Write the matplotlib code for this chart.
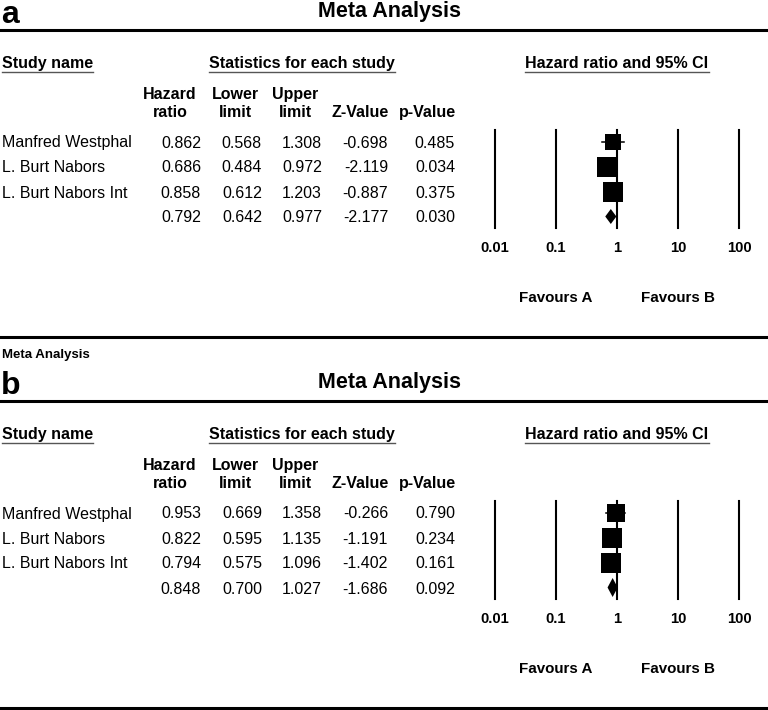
import numpy as np
import matplotlib.pyplot as plt

# study rows (last row = pooled estimate, no name)
names = ['Manfred Westphal', 'L. Burt Nabors', 'L. Burt Nabors Int', '']

a_hr = [0.862, 0.686, 0.858, 0.792]
a_lo = [0.568, 0.484, 0.612, 0.642]
a_hi = [1.308, 0.972, 1.203, 0.977]
a_z = [-0.698, -2.119, -0.887, -2.177]
a_p = [0.485, 0.034, 0.375, 0.030]

b_hr = [0.953, 0.822, 0.794, 0.848]
b_lo = [0.669, 0.595, 0.575, 0.700]
b_hi = [1.358, 1.135, 1.096, 1.027]
b_z = [-0.266, -1.191, -1.402, -1.686]
b_p = [0.790, 0.234, 0.161, 0.092]

col_heads = [('Hazard', 'ratio'), ('Lower', 'limit'), ('Upper', 'limit'),
             ('', 'Z-Value'), ('', 'p-Value')]
ticks = [0.01, 0.1, 1, 10, 100]
tick_labels = ['0.01', '0.1', '1', '10', '100']

plt.rcParams['font.family'] = ['Liberation Sans', 'DejaVu Sans']

W, H = 768, 710
PT = 0.72  # points per pixel at 100 dpi
fig = plt.figure(figsize=(W / 100, H / 100), dpi=100)
bg = fig.add_axes([0, 0, 1, 1])
bg.set_xlim(0, W)
bg.set_ylim(H, 0)
bg.axis('off')

FS = 11.5
head_cx = [170, 235, 295, 360, 427]
val_rx = [201, 262, 322, 388, 455]
row_y = [141.5 + 25 * i for i in range(4)]


def underline(t, y):
    fig.canvas.draw()
    bb = t.get_window_extent()
    inv = bg.transData.inverted()
    x0 = inv.transform((bb.x0, bb.y0))[0]
    x1 = inv.transform((bb.x1, bb.y0))[0]
    bg.plot([x0, x1], [y, y], color='#555555', lw=1.0)


def panel(off, letter, hr, lo, hi, z, p, dh):
    bg.text(1, 23 + off, letter, fontsize=23, weight='bold', va='baseline')
    bg.text(390, 17 + off, 'Meta Analysis', fontsize=15.5, weight='bold',
            ha='center', va='baseline')
    bg.plot([0, W], [29.5 + off] * 2, color='black', lw=2.2)

    t = bg.text(2, 68 + off, 'Study name', fontsize=FS, weight='bold', va='baseline')
    underline(t, 72 + off)
    t = bg.text(209, 68 + off, 'Statistics for each study', fontsize=FS,
                weight='bold', va='baseline')
    underline(t, 72 + off)
    t = bg.text(617, 68 + off, 'Hazard ratio and 95% CI', fontsize=FS,
                weight='bold', va='baseline', ha='center')
    underline(t, 72 + off)

    for cx, (l1, l2) in zip(head_cx, col_heads):
        bg.text(cx, 99 + off, l1, fontsize=FS, weight='bold', ha='center', va='baseline')
        bg.text(cx, 117 + off, l2, fontsize=FS, weight='bold', ha='center', va='baseline')

    cols = [hr, lo, hi, z, p]
    for i, name in enumerate(names):
        y = row_y[i] + 6 + off
        bg.text(2, y, name, fontsize=FS, va='baseline')
        for rx, c in zip(val_rx, cols):
            bg.text(rx, y, f'{c[i]:.3f}', fontsize=FS, ha='right', va='baseline')

    # forest plot
    top, bot = 130 + off, 228 + off
    ax = fig.add_axes([495 / W, 1 - bot / H, (739 - 495) / W, (bot - top) / H])
    ax.set_xscale('log')
    ax.set_xlim(0.01, 100)
    ax.set_ylim(3.46, -0.46)
    ax.patch.set_visible(False)
    for s in ax.spines.values():
        s.set_visible(False)
    for tk in ticks:
        ax.axvline(tk, color='black', lw=1.5, clip_on=False)
    ax.set_xticks(ticks, tick_labels, fontsize=10.7, fontweight='bold')
    ax.minorticks_off()
    ax.tick_params(axis='x', length=0, pad=9.5)
    ax.set_yticks([])

    se = (np.log(hi[:3]) - np.log(lo[:3])) / 3.92
    w = 1 / se ** 2
    side = 20.5 * np.sqrt(w / w.max())
    for i in range(3):
        ax.plot([lo[i], hi[i]], [i, i], color='black', lw=1.1, clip_on=False)
        ax.plot(hr[i], i, marker='s', ms=side[i] * PT, mew=0, color='black',
                clip_on=False)
    h = dh / 2 / 25
    ax.fill([lo[3], hr[3], hi[3], hr[3]], [3, 3 - h, 3, 3 + h], color='black',
            lw=0, clip_on=False)

    for xv, lab in [(0.1, 'Favours A'), (10, 'Favours B')]:
        ax.annotate(lab, xy=(xv, 0), xycoords=('data', 'axes fraction'),
                    xytext=(0, -(302 - 228) * PT), textcoords='offset points',
                    ha='center', va='baseline', fontsize=10.9, weight='bold')

    bg.plot([0, W], [336.5 + off] * 2, color='black', lw=2.2)


panel(0, 'a', a_hr, a_lo, a_hi, a_z, a_p, 15)
bg.text(2, 358, 'Meta Analysis', fontsize=9.5, weight='bold', va='baseline')
panel(371, 'b', b_hr, b_lo, b_hi, b_z, b_p, 19)

fig.savefig('out.png', dpi=100)
